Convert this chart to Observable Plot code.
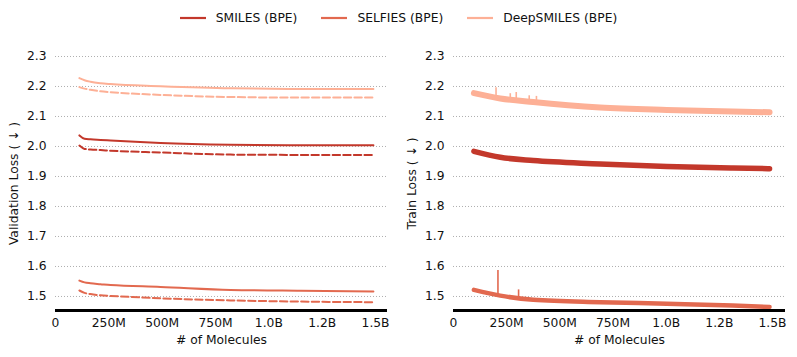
<!DOCTYPE html>
<html>
<head>
<meta charset="utf-8">
<script src="https://cdn.jsdelivr.net/npm/d3@7"></script>
<script src="https://cdn.jsdelivr.net/npm/@observablehq/plot@0.6"></script>
<style>
  html, body { margin: 0; padding: 0; background: #fff; }
  body { width: 797px; height: 357px; overflow: hidden; font-family: "DejaVu Sans", sans-serif; }
  #legend { height: 36px; display: flex; justify-content: center; align-items: center; font-size: 12.3px; color: #111; }
  .item { display: flex; align-items: center; margin: 0 12px; }
  .item svg { margin-right: 10px; }
  #row { display: flex; }
</style>
</head>
<body>
<div id="legend"></div>
<div id="row"><div id="left"></div><div id="right"></div></div>
<script>
// ---- categories ----
const seriesNames = ["SMILES (BPE)", "SELFIES (BPE)", "DeepSMILES (BPE)"];
const seriesColors = ["#c3382b", "#e2694f", "#fdb096"];

// ---- ticks ----
const xTicks = [0, 250, 500, 750, 1000, 1250, 1500];           // millions of molecules
const xTickLabels = ["0", "250M", "500M", "750M", "1.0B", "1.2B", "1.5B"];
const yTicks = [1.5, 1.6, 1.7, 1.8, 1.9, 2.0, 2.1, 2.2, 2.3];

// ---- validation loss (left) ----
const valM = [112, 136, 164, 211, 258, 492, 820, 1150, 1490];
const valSmilesSolid   = [2.037, 2.026, 2.024, 2.022, 2.020, 2.012, 2.006, 2.004, 2.004];
const valSmilesDashed  = [2.003, 1.992, 1.990, 1.988, 1.986, 1.980, 1.973, 1.972, 1.972];
const valSelfiesSolid  = [1.553, 1.547, 1.544, 1.541, 1.538, 1.532, 1.522, 1.519, 1.517];
const valSelfiesDashed = [1.520, 1.512, 1.508, 1.504, 1.502, 1.494, 1.487, 1.483, 1.481];
const valDeepSolid     = [2.228, 2.221, 2.216, 2.211, 2.208, 2.201, 2.194, 2.192, 2.192];
const valDeepDashed    = [2.198, 2.193, 2.189, 2.184, 2.181, 2.172, 2.165, 2.163, 2.163];

// ---- train loss (right) ----
const trainM = [96, 220, 375, 689, 1003, 1313, 1486];
const trainSmiles  = [1.984, 1.964, 1.953, 1.942, 1.933, 1.928, 1.926];
const trainSelfies = [1.522, 1.503, 1.489, 1.481, 1.476, 1.470, 1.465];
const trainDeep    = [2.178, 2.160, 2.148, 2.130, 2.122, 2.117, 2.114];

// spikes in train loss
const spikeSeries = ["DeepSMILES (BPE)", "DeepSMILES (BPE)", "DeepSMILES (BPE)", "DeepSMILES (BPE)", "DeepSMILES (BPE)", "SELFIES (BPE)", "SELFIES (BPE)"];
const spikeM    = [200, 267, 295, 356, 390, 209, 306];
const spikeBase = [2.162, 2.155, 2.153, 2.148, 2.146, 1.503, 1.494];
const spikeTop  = [2.196, 2.176, 2.180, 2.169, 2.167, 1.587, 1.522];

// ---- build tables ----
function rows(ms, vs, s) { return ms.map((m, i) => ({m, v: vs[i], s})); }
const valSolid = [
  ...rows(valM, valSmilesSolid, seriesNames[0]),
  ...rows(valM, valSelfiesSolid, seriesNames[1]),
  ...rows(valM, valDeepSolid, seriesNames[2])
];
const valDashed = [
  ...rows(valM, valSmilesDashed, seriesNames[0]),
  ...rows(valM, valSelfiesDashed, seriesNames[1]),
  ...rows(valM, valDeepDashed, seriesNames[2])
];
const trainRows = [
  ...rows(trainM, trainSmiles, seriesNames[0]).map(d => ({...d, w: 5.5})),
  ...rows(trainM, trainSelfies, seriesNames[1]).map(d => ({...d, w: 4.5})),
  ...rows(trainM, trainDeep, seriesNames[2]).map(d => ({...d, w: 6}))
];
const spikes = spikeM.map((m, i) => ({m, s: spikeSeries[i], y1: spikeBase[i], y2: spikeTop[i]}));

const yMin = 1.4533, yMax = 2.3;
const colorScale = {domain: seriesNames, range: seriesColors};
const style = {fontFamily: "DejaVu Sans, sans-serif", fontSize: "12.3px", color: "#111", background: "#fff"};

function panel(xMax, yLabel, marks) {
  return Plot.plot({
    width: 398, height: 321,
    marginLeft: 55, marginRight: 11, marginTop: 20, marginBottom: 47,
    style,
    x: {domain: [0, xMax], ticks: xTicks, tickFormat: (d, i) => xTickLabels[xTicks.indexOf(d)],
        tickSize: 0, tickPadding: 8, label: "# of Molecules", labelAnchor: "center", labelArrow: "none", labelOffset: 33},
    y: {domain: [yMin, yMax], ticks: yTicks, tickFormat: d3.format(".1f"),
        tickSize: 0, tickPadding: 9, label: yLabel, labelAnchor: "center", labelArrow: "none", labelOffset: 46},
    color: colorScale,
    marks: [
      Plot.gridY(yTicks, {stroke: "#9a9a9a", strokeOpacity: 1, strokeWidth: 0.8, strokeDasharray: "1,2"}),
      ...marks,
      Plot.ruleY([yMin], {stroke: "#000", strokeWidth: 3})
    ]
  });
}

const left = panel(1556, "Validation Loss ( ↓ )", [
  Plot.line(valSolid, {x: "m", y: "v", z: "s", stroke: "s", strokeWidth: 2, curve: "monotone-x"}),
  Plot.line(valDashed, {x: "m", y: "v", z: "s", stroke: "s", strokeWidth: 2, strokeDasharray: "7.4,3.2", curve: "monotone-x"})
]);
const right = panel(1561, "Train Loss ( ↓ )", [
  Plot.ruleX(spikes, {x: "m", y1: "y1", y2: "y2", stroke: "s", strokeWidth: 1.6}),
  ...seriesNames.map(name => Plot.line(trainRows.filter(d => d.s === name),
    {x: "m", y: "v", stroke: "s", strokeWidth: trainRows.find(d => d.s === name).w, curve: "monotone-x"}))
]);
document.getElementById("left").appendChild(left);
document.getElementById("right").appendChild(right);

// ---- legend ----
const legend = document.getElementById("legend");
seriesNames.forEach((name, i) => {
  const item = document.createElement("div");
  item.className = "item";
  item.innerHTML = `<svg width="26" height="10"><line x1="0" x2="26" y1="5" y2="5" stroke="${seriesColors[i]}" stroke-width="2.2"/></svg><span>${name}</span>`;
  legend.appendChild(item);
});
</script>
</body>
</html>
